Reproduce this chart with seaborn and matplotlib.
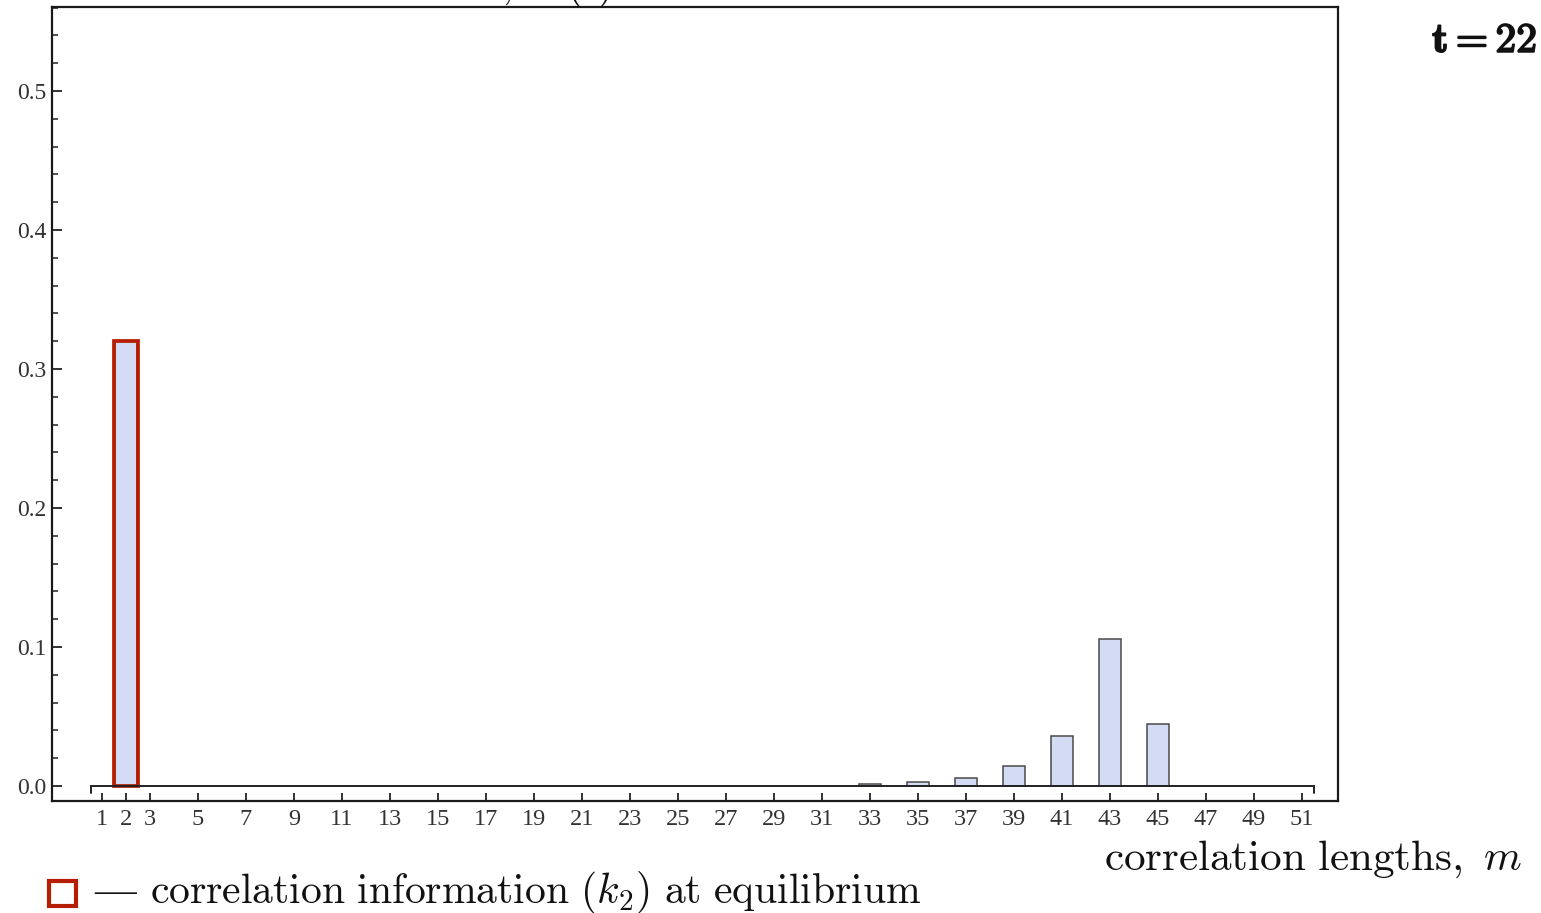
import numpy as np
import pandas as pd
import matplotlib
matplotlib.use("Agg")
import matplotlib.pyplot as plt
import matplotlib.patheffects as pe
from matplotlib.ticker import MultipleLocator, FixedLocator
from matplotlib.patches import Rectangle
import seaborn as sns

# ---- data ----
lengths = [2, 33, 35, 37, 39, 41, 43, 45]
info = [0.320, 0.0014, 0.0030, 0.0058, 0.0144, 0.036, 0.1058, 0.0446]
eq_length = [2]
eq_info = [0.320]
xtick_values = [1, 2, 3] + list(range(5, 52, 2))
ytick_values = [0.0, 0.1, 0.2, 0.3, 0.4, 0.5]

sns.set_theme(style="white")
plt.rcParams["mathtext.fontset"] = "cm"
plt.rcParams["font.family"] = ["Liberation Serif", "DejaVu Serif"]

W, H = 1541, 913
fig = plt.figure(figsize=(W / 100, H / 100), dpi=100)
ax = fig.add_axes([52 / W, 1 - 801 / H, (1338 - 52) / W, (801 - 7) / H])

df = pd.DataFrame({"m": lengths, "k": info})
sns.barplot(data=df, x="m", y="k", native_scale=True, width=0.46,
            color="#D3DCF4", saturation=1, edgecolor="#4a4a4a",
            linewidth=1.1, errorbar=None, ax=ax, zorder=2)

df_eq = pd.DataFrame({"m": eq_length, "k": eq_info})
sns.barplot(data=df_eq, x="m", y="k", native_scale=True, width=1.0,
            color="#B61E02", saturation=1, fill=False,
            linewidth=2.7, errorbar=None, ax=ax, zorder=3)

ax.set_xlim(-1.083, 52.5)
ax.set_ylim(-0.0108, 0.5604)

# baseline with end ticks
ax.plot([0.55, 0.55, 51.5, 51.5], [-0.005, 0, 0, -0.005], color="#222222",
        lw=1.4, zorder=4, solid_joinstyle="miter")

ax.xaxis.set_major_locator(FixedLocator(xtick_values))
ax.set_xticklabels([str(v) for v in xtick_values])
ax.yaxis.set_major_locator(FixedLocator(ytick_values))
ax.yaxis.set_minor_locator(MultipleLocator(0.02))
ax.set_yticklabels([f"{v:.1f}" for v in ytick_values])
ax.set_xlabel("")
ax.set_ylabel("")

ax.tick_params(axis="x", which="major", direction="in", length=6, width=1.3,
               color="#222222", labelsize=17.5, labelcolor="#333333", pad=6,
               bottom=True, top=False)
ax.tick_params(axis="y", which="major", direction="in", length=7, width=1.3,
               color="#222222", labelsize=17, labelcolor="#333333", pad=4,
               left=True, right=False)
ax.tick_params(axis="y", which="minor", direction="in", length=4.5, width=1.1,
               color="#222222", left=True, right=False)

for s in ax.spines.values():
    s.set_visible(True)
    s.set_color("#1a1a1a")
    s.set_linewidth(1.6)

# axis label
fig.text(1522 / W, 1 - 870 / H, r"$\mathrm{correlation\ lengths,}\ m$",
         ha="right", va="baseline", fontsize=31, color="#111111")

# time stamp
fig.text(1537 / W, 1 - 52 / H, r"$\mathbf{t=22}$", ha="right",
         va="baseline", fontsize=30, color="#111111",
         path_effects=[pe.withStroke(linewidth=1.3, foreground="#111111")])

# clipped title at the top
fig.text(612 / W, 1 + 3 / H, r"$\mathrm{correlation\ information,}\ \ k(t)$",
         ha="right", va="baseline", fontsize=30, color="#111111")

# legend key
fig.patches.append(Rectangle((49 / W, 1 - 906 / H), 27 / W, 25 / H,
                             transform=fig.transFigure, facecolor="white",
                             edgecolor="#B61E02", linewidth=3.0))
fig.text(94 / W, 1 - 903 / H, "\u2014", ha="left", va="baseline",
         fontsize=30, color="#111111", family="Liberation Serif")
fig.text(150 / W, 1 - 903 / H,
         r"$\mathrm{correlation\ information\ (}k_2\mathrm{)\ at\ equilibrium}$",
         ha="left", va="baseline", fontsize=30, color="#111111")

fig.savefig("out.png", dpi=100)
